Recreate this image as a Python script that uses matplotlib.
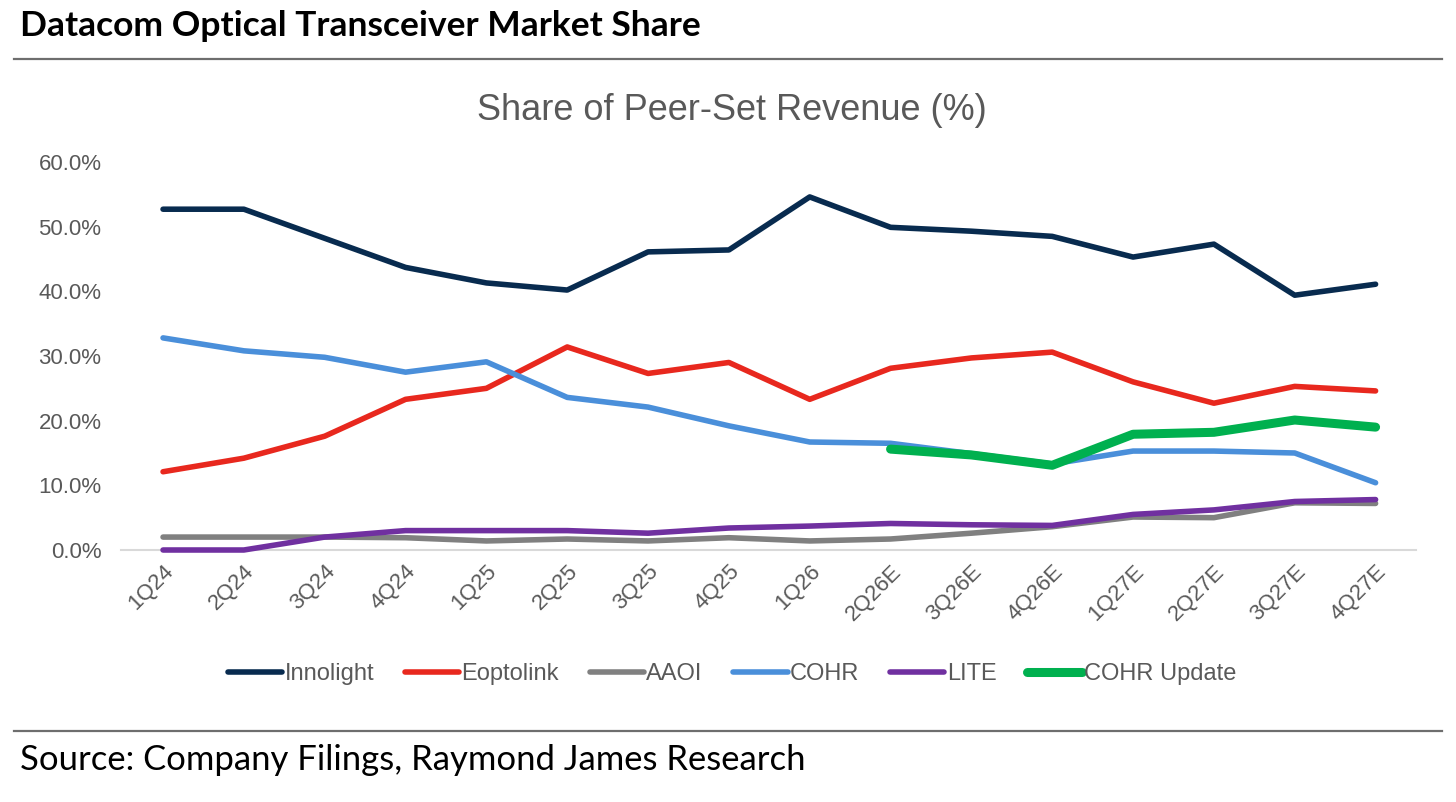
import matplotlib
matplotlib.use("Agg")
import matplotlib.pyplot as plt
from matplotlib.ticker import FuncFormatter

quarters = ['1Q24', '2Q24', '3Q24', '4Q24', '1Q25', '2Q25', '3Q25', '4Q25',
            '1Q26', '2Q26E', '3Q26E', '4Q26E', '1Q27E', '2Q27E', '3Q27E', '4Q27E']

innolight = [52.7, 52.7, 48.2, 43.7, 41.3, 40.2, 46.1, 46.4,
             54.6, 49.9, 49.3, 48.5, 45.3, 47.3, 39.4, 41.1]
eoptolink = [12.1, 14.2, 17.6, 23.3, 25.0, 31.4, 27.3, 29.0,
             23.3, 28.1, 29.7, 30.6, 26.0, 22.7, 25.3, 24.6]
aaoi = [2.0, 2.0, 2.0, 1.9, 1.4, 1.7, 1.4, 1.9,
        1.4, 1.7, 2.6, 3.6, 5.1, 5.0, 7.3, 7.2]
cohr = [32.8, 30.8, 29.8, 27.5, 29.1, 23.6, 22.1, 19.2,
        16.7, 16.5, 14.9, 13.3, 15.3, 15.3, 15.0, 10.4]
lite = [0.0, 0.0, 2.0, 3.0, 3.0, 3.0, 2.6, 3.4,
        3.7, 4.1, 3.9, 3.8, 5.5, 6.2, 7.5, 7.8]
# update only covers 2Q26E onward
cohr_update_q = quarters[9:]
cohr_update = [15.6, 14.7, 13.1, 17.9, 18.2, 20.1, 19.0]

TXT = '#595959'

fig = plt.figure(figsize=(14.56, 8.02), dpi=100)
ax = fig.add_axes([121 / 1456, 1 - 550 / 802, (1416 - 121) / 1456, (550 - 162) / 802])

x = list(range(len(quarters)))
xu = [quarters.index(q) for q in cohr_update_q]

ax.plot(x, [v / 100 for v in innolight], color='#082B4F', lw=4, label='Innolight', solid_capstyle='round')
ax.plot(x, [v / 100 for v in eoptolink], color='#E8281E', lw=4, label='Eoptolink', solid_capstyle='round')
ax.plot(x, [v / 100 for v in aaoi], color='#808080', lw=4, label='AAOI', solid_capstyle='round')
ax.plot(x, [v / 100 for v in cohr], color='#4A8FDA', lw=4, label='COHR', solid_capstyle='round')
ax.plot(x, [v / 100 for v in lite], color='#7030A0', lw=4, label='LITE', solid_capstyle='round', clip_on=False)
ax.plot(xu, [v / 100 for v in cohr_update], color='#00B04F', lw=6.5, label='COHR Update', solid_capstyle='round')

ax.set_xlim(-0.52, 15.5)
ax.set_ylim(0, 0.6)
ax.set_yticks([0, 0.1, 0.2, 0.3, 0.4, 0.5, 0.6])
ax.yaxis.set_major_formatter(FuncFormatter(lambda v, p: f'{v * 100:.1f}%'))
ax.set_xticks(x)
ax.set_xticklabels(quarters, rotation=45, ha='right', rotation_mode='anchor')

for s in ['top', 'right', 'left']:
    ax.spines[s].set_visible(False)
ax.spines['bottom'].set_color('#D9D9D9')
ax.spines['bottom'].set_linewidth(1.5)
ax.spines['bottom'].set_zorder(0)
ax.tick_params(axis='both', length=0, labelcolor=TXT, labelsize=16, labelfontfamily='Liberation Sans')
ax.tick_params(axis='y', pad=14)
ax.tick_params(axis='x', pad=8)

leg = fig.legend(loc='center', bbox_to_anchor=(732 / 1456, 1 - 674 / 802), ncol=6, frameon=False,
                 handlelength=2.3, handletextpad=0.1, columnspacing=1.3,
                 prop={'family': 'Liberation Sans', 'size': 17}, labelcolor=TXT)

fig.text(732 / 1456, 1 - 111 / 802, 'Share of Peer-Set Revenue (%)', ha='center', va='center',
         color=TXT, fontsize=26, family='Liberation Sans')

fig.text(20 / 1456, 1 - 26 / 802, 'Datacom Optical Transceiver Market Share', ha='left', va='center',
         fontsize=25.5, fontweight='bold', family='Lato', color='black')
fig.text(20 / 1456, 1 - 760 / 802, 'Source: Company Filings, Raymond James Research', ha='left', va='center',
         fontsize=24.9, family='Lato', color='black')

for yy in [59, 731]:
    fig.add_artist(plt.Line2D([14 / 1456, 1442 / 1456], [1 - yy / 802] * 2, color='#6E6E6E', lw=1.6))

fig.savefig('out.png', dpi=100, facecolor='white')
